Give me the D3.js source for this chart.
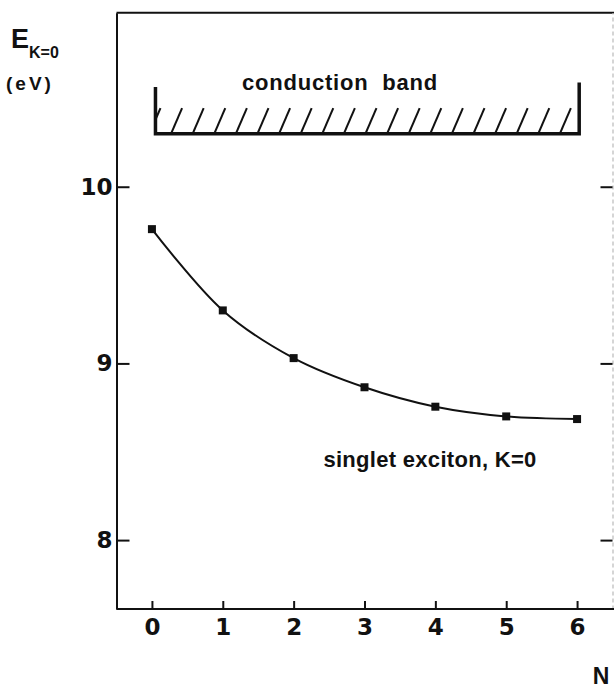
<!DOCTYPE html>
<html><head><meta charset="utf-8">
<script src="https://cdn.jsdelivr.net/npm/d3@7"></script>
<style>
html,body{margin:0;padding:0;background:#fff;}
text{font-family:"Liberation Sans",Arial,sans-serif;font-weight:bold;fill:#111;}
</style></head>
<body><svg id="c" width="614" height="688"></svg>
<script>
// ---- data ----
const layers = [0, 1, 2, 3, 4, 5, 6];
const energies = [9.76, 9.30, 9.03, 8.865, 8.755, 8.70, 8.685];
const xTicks = [0, 1, 2, 3, 4, 5, 6];
const yTicks = [8, 9, 10];
const bandLevel = [10.30];
const bandRange = [0.05, 6.03];

const svg = d3.select("#c");
const x = d3.scaleLinear().domain([-0.5, 6.5]).range([116.5, 612.5]);
const y = d3.scaleLinear().domain([7.61, 10.985]).range([609, 12.7]);

// frame top
svg.append("line").attr("x1", x(-0.5)).attr("x2", 614).attr("y1", y(10.985)).attr("y2", y(10.985))
  .attr("stroke", "#111").attr("stroke-width", 2);

// right axis (faint border)
const gr = svg.append("g").attr("transform", `translate(${x(6.5)},0)`)
  .call(d3.axisRight(y).tickValues(yTicks).tickSizeInner(-12).tickSizeOuter(0).tickFormat(""));
gr.select(".domain").attr("stroke", "#c8c8c8").attr("stroke-width", 1.5).attr("stroke-dasharray", "4,3");
gr.selectAll(".tick line").attr("stroke", "#111").attr("stroke-width", 2);

const tickFont = sel => sel.style("font-size", "23px")
  .style("font-family", "DejaVu Sans, Liberation Sans, sans-serif").style("font-weight", "bold").attr("fill", "#111");

// left axis
const gl = svg.append("g").attr("transform", `translate(${x(-0.5)},0)`)
  .call(d3.axisLeft(y).tickValues(yTicks).tickSizeInner(-13).tickSizeOuter(0).tickPadding(4).tickFormat(d3.format("d")));
gl.select(".domain").attr("stroke", "#111").attr("stroke-width", 2);
gl.selectAll(".tick line").attr("stroke", "#111").attr("stroke-width", 2);
gl.selectAll(".tick text").call(tickFont);

// bottom axis
const gb = svg.append("g").attr("transform", `translate(0,${y(7.61)})`)
  .call(d3.axisBottom(x).tickValues(xTicks).tickSizeInner(-8).tickSizeOuter(0).tickPadding(10).tickFormat(d3.format("d")));
gb.select(".domain").attr("stroke", "#111").attr("stroke-width", 2).attr("d", `M${x(-0.5)},0H614`);
gb.selectAll(".tick line").attr("stroke", "#111").attr("stroke-width", 2);
gb.selectAll(".tick text").call(tickFont);

// conduction band bracket
const bx0 = x(bandRange[0]), bx1 = x(bandRange[1]), by = y(bandLevel[0]);
svg.append("path")
  .attr("d", `M${bx0},${y(10.565)}V${by}H${bx1}V${y(10.59)}`)
  .attr("fill", "none").attr("stroke", "#111").attr("stroke-width", 3.5);
svg.append("clipPath").attr("id", "bandclip").append("rect")
  .attr("x", bx0).attr("y", y(10.46)).attr("width", bx1 - bx0).attr("height", by - y(10.46));
const hatchStart = d3.range(0, 21).map(i => bx0 - 6 + i * 21.6);
svg.append("g").attr("clip-path", "url(#bandclip)").selectAll("line").data(hatchStart).join("line")
  .attr("x1", d => d).attr("y1", by)
  .attr("x2", d => d + 11).attr("y2", y(10.445))
  .attr("stroke", "#111").attr("stroke-width", 2);
svg.append("text").attr("x", 340).attr("y", 90).attr("text-anchor", "middle")
  .attr("xml:space", "preserve").style("white-space", "pre")
  .style("font-size", "22px").style("letter-spacing", "0.8px").text("conduction  band");

// curve
svg.append("path").datum(layers.map((n, i) => [n, energies[i]]))
  .attr("d", d3.line().x(d => x(d[0])).y(d => y(d[1])).curve(d3.curveCatmullRom.alpha(0.5)))
  .attr("fill", "none").attr("stroke", "#111").attr("stroke-width", 2);
svg.append("g").selectAll("rect").data(layers).join("rect")
  .attr("x", (d) => x(d) - 4).attr("y", (d, i) => y(energies[i]) - 4)
  .attr("width", 8).attr("height", 8).attr("fill", "#111");

svg.append("text").attr("x", 430).attr("y", 467).attr("text-anchor", "middle")
  .style("font-size", "22px").style("letter-spacing", "0.3px").text("singlet exciton, K=0");

// y label
const ey = svg.append("text").attr("x", 11).attr("y", 48);
ey.append("tspan").style("font-size", "27px").text("E");
ey.append("tspan").attr("dy", 10).style("font-size", "16px").text("K=0");
svg.append("text").attr("x", 6).attr("y", 90).style("font-size", "19px").style("letter-spacing", "3px").text("(eV)");

// x label
svg.append("text").attr("x", 601).attr("y", 684).attr("text-anchor", "middle").style("font-size", "23px").text("N");
</script></body></html>
